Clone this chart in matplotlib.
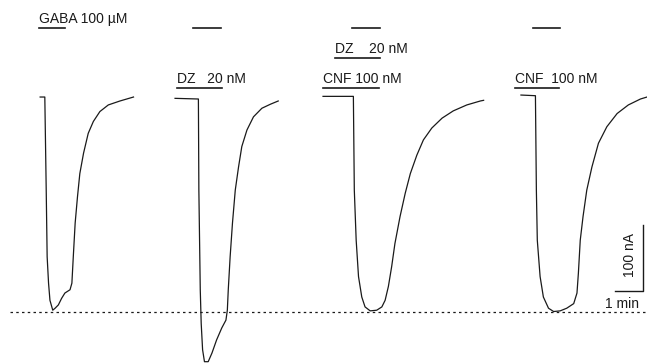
# GABA current traces with DZ / CNF modulation (two-electrode clamp style)

import matplotlib
matplotlib.use('Agg')
import matplotlib.pyplot as plt

plt.rcParams['font.family'] = ['Liberation Sans', 'DejaVu Sans']

# time in s, current in nA
t1 = [86, 96, 99, 101, 104, 107, 113, 118, 125, 132, 139, 150, 154, 157, 161, 166, 171, 179, 189, 200, 214, 232, 257, 286]
i1 = [0, 0, -141, -242, -282, -308, -323, -320, -315, -305, -297, -292, -282, -242, -191, -151, -116, -85, -55, -37, -22, -12, -6, 0]

t2 = [375, 425, 426, 429, 431, 434, 438, 446, 454, 464, 475, 484, 487, 489, 493, 498, 504, 511, 518, 529, 543, 561, 579, 596]
i2 = [-2, -3, -141, -292, -343, -383, -401, -401, -388, -368, -350, -338, -323, -292, -242, -191, -141, -106, -75, -50, -30, -17, -11, -6]

t3 = [692, 757, 759, 763, 768, 775, 782, 793, 807, 818, 825, 832, 839, 846, 857, 868, 879, 893, 907, 925, 947, 971, 1000, 1029, 1036]
i3 = [1, 1, -141, -217, -272, -303, -318, -324, -323, -318, -308, -287, -257, -222, -181, -146, -116, -88, -65, -47, -32, -21, -12, -6, -5]

t4 = [1116, 1147, 1149, 1151, 1157, 1164, 1175, 1186, 1200, 1214, 1229, 1236, 1239, 1243, 1249, 1257, 1268, 1282, 1300, 1322, 1346, 1372, 1386]
i4 = [3, 2, -141, -217, -272, -303, -320, -325, -324, -320, -313, -297, -267, -217, -181, -141, -106, -70, -45, -25, -12, -3, 0]

traces = [(t1, i1), (t2, i2), (t3, i3), (t4, i4)]

# peak of control response (dotted reference)
ref_level = -326

# GABA applications (start, end) in s
gaba_apps = [(84, 139), (414, 473), (754, 814), (1142, 1200)]
# modulator applications: label, start, end, level of bar
mod_apps = [('DZ   20 nM', 379, 475, 14),
            ('CNF 100 nM', 692, 812, 14),
            ('CNF  100 nM', 1104, 1198, 14),
            ('DZ    20 nM', 718, 814, 59)]

gaba_label = 'GABA 100 µM'
bar_level = 105

# scale bar: 1 min, 100 nA
sb_t, sb_i = 1378, -294
sb_dt, sb_di = 60, 100

ink = '#1a1a1a'

fig = plt.figure(figsize=(6.47, 3.64), dpi=100)
ax = fig.add_axes([0, 0, 1, 1])
ax.set_xlim(0, 1386)
ax.set_ylim(-404.5, 147)
ax.axis('off')

for t, i in traces:
    ax.plot(t, i, color=ink, lw=0.9, solid_joinstyle='round')

ax.plot([21, 1382], [ref_level, ref_level], color=ink, lw=0.9,
        linestyle=(0, (2, 2.6)))

for a, b in gaba_apps:
    ax.plot([a, b], [bar_level, bar_level], color=ink, lw=1.2)
ax.text(84, 112, gaba_label, fontsize=10, color=ink, va='baseline', ha='left')

for label, a, b, lev in mod_apps:
    ax.plot([a, b], [lev, lev], color=ink, lw=1.2)
    ax.text(a, lev + 8, label, fontsize=10, color=ink, va='baseline', ha='left')

ax.plot([sb_t - sb_dt, sb_t, sb_t], [sb_i, sb_i, sb_i + sb_di], color=ink, lw=1.0)
ax.text(1349, -240, '100 nA', fontsize=10, color=ink, rotation=90,
        ha='center', va='center')
ax.text(1333, -313, '1 min', fontsize=10, color=ink, ha='center', va='center')

fig.savefig('out.png', dpi=100)
